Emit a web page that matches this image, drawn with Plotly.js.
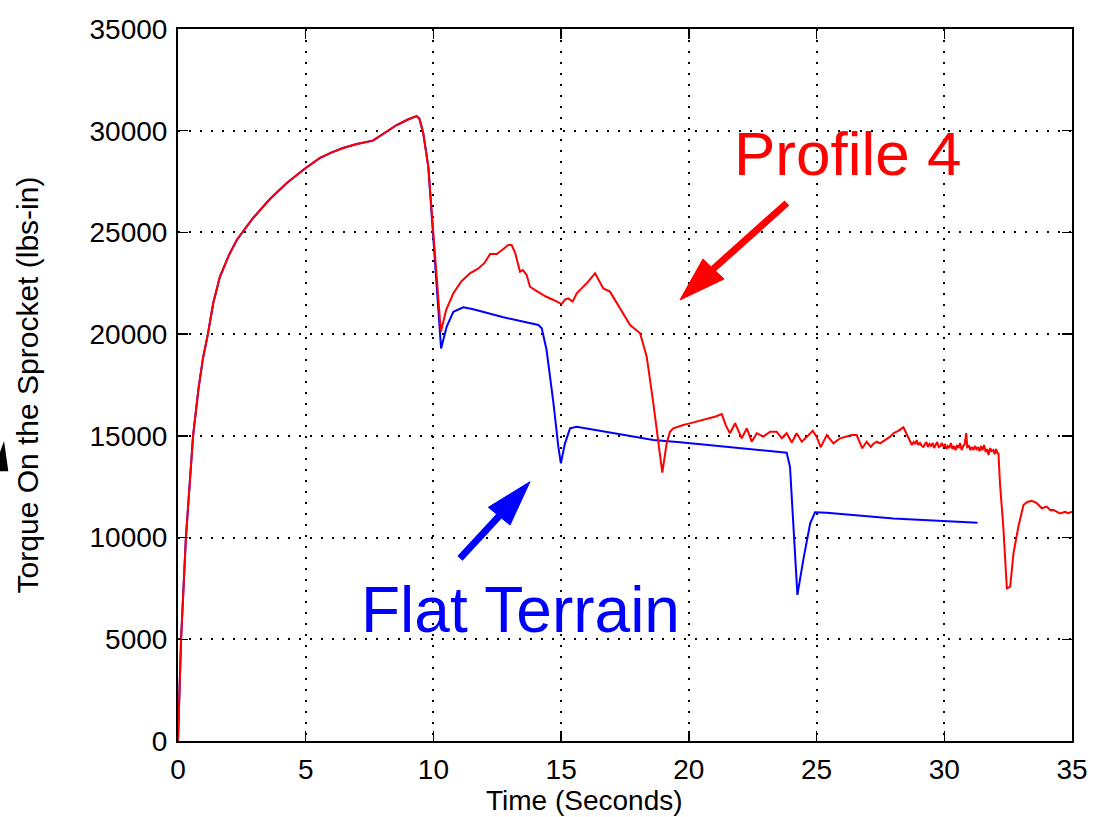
<!DOCTYPE html>
<html>
<head>
<meta charset="utf-8">
<script src="https://cdn.plot.ly/plotly-3.0.1.min.js"></script>
<style>html,body{margin:0;padding:0;background:#fff;}#chart{width:1103px;height:817px;}</style>
</head>
<body>
<div id="chart"></div>
<script>
// Time axis (seconds) and torque values (lbs-in)
const xTicks = [0, 5, 10, 15, 20, 25, 30, 35];
const yTicks = [0, 5000, 10000, 15000, 20000, 25000, 30000, 35000];

const profileTime = [
  0, 0.12, 0.31, 0.59, 0.8, 0.98, 1.17, 1.38, 1.64, 2.0, 2.3, 2.6, 2.94, 3.6, 4.26, 5.0, 5.56, 6.0, 6.46, 7.0, 7.63, 8.1, 8.56, 9.0, 9.34, 9.45, 9.6, 9.8, 9.99, 10.13,
  10.29, 10.5, 10.78, 11.1, 11.43, 11.76, 12.0, 12.22, 12.48, 12.7, 12.93, 13.06, 13.2, 13.39, 13.5, 13.65, 13.78, 14.0, 14.17, 14.4, 14.7, 15.02, 15.15, 15.28, 15.45, 15.61, 15.8, 16.0, 16.33, 16.5, 16.65, 16.91, 17.05, 17.18, 17.44, 17.7, 18.09, 18.2, 18.35, 18.61, 18.81, 18.96, 19.13, 19.26, 19.39, 19.55, 19.78, 20.0, 20.3, 20.55, 20.83, 21.05, 21.29,
  21.45, 21.61, 21.81, 22.07, 22.27, 22.46, 22.66, 22.92, 23.18, 23.44, 23.64, 23.83, 24.03, 24.22, 24.42, 24.62, 24.85, 25.0, 25.16, 25.4, 25.66, 25.92, 26.15, 26.38, 26.57, 26.79, 26.96, 27.12, 27.22, 27.36, 27.49, 27.68, 27.88, 28.01, 28.2, 28.4, 28.55,
  28.73, 28.8, 28.87, 28.92, 28.98, 29.05, 29.12, 29.18, 29.25, 29.3, 29.36, 29.42, 29.48, 29.55, 29.6, 29.66, 29.72, 29.78, 29.85, 29.9, 29.97, 30.03, 30.08, 30.14, 30.2, 30.26, 30.32, 30.38, 30.44, 30.5, 30.56, 30.62, 30.68, 30.74, 30.8, 30.86, 30.9, 30.96, 31.02, 31.08, 31.14, 31.2, 31.26, 31.32, 31.38, 31.44, 31.5, 31.56, 31.62, 31.68, 31.73, 31.8, 31.85, 31.92, 31.97, 32.03, 32.08, 32.12,
  32.18, 32.31, 32.45, 32.58, 32.71, 32.9, 33.1, 33.25, 33.43, 33.62, 33.82, 34.01, 34.15, 34.27, 34.4, 34.53, 34.73, 34.85, 35.0
];
const profileTorque = [
  0, 5000, 10000, 15000, 17300, 18830, 20000, 21530, 22820, 23900, 24630, 25150, 25710, 26640, 27430, 28170, 28660, 28920, 29150, 29350, 29510, 29900, 30280, 30550, 30720, 30600, 29890, 28220, 25040, 22330,
  20120, 21200, 22010, 22600, 22990, 23230, 23500, 23940, 23940, 24150, 24380, 24380, 24000, 23070, 23150, 22910, 22330, 22150, 22010, 21850, 21680, 21480, 21700, 21760, 21600, 22010, 22250, 22500, 22990, 22600, 22250, 22090, 21800, 21520, 21020, 20450, 20040, 19600, 18890, 16600, 14630, 13190, 14630, 15200, 15370, 15450, 15530, 15600, 15700, 15780, 15860, 15950, 16070,
  15500, 15130, 15620, 14880, 15370, 14710, 15130, 14960, 15200, 15200, 14880, 15130, 14670, 15130, 14710, 14960, 15250, 14960, 14440, 15040, 14630, 14880, 14950, 15040, 15040, 14390, 14710, 14460, 14600, 14710, 14630, 14800, 14960, 15130, 15250, 15420, 15050,
  14550, 14700, 14600, 14800, 14550, 14650, 14500, 14460, 14600, 14700, 14450, 14600, 14500, 14650, 14400, 14550, 14700, 14450, 14500, 14650, 14460, 14600, 14350, 14500, 14400, 14650, 14350, 14500, 14300, 14550, 14400, 14650, 14300, 14500, 14600, 15140, 14400, 14550, 14300, 14450, 14300, 14500, 14350, 14450, 14250, 14500, 14300, 14550, 14200, 14350, 14060, 14400, 14250, 14300, 14100, 14350, 14150, 14140,
  12670, 10530, 7500, 7590, 9230, 10530, 11600, 11750, 11810, 11690, 11440, 11520, 11350, 11360, 11280, 11190, 11270, 11200, 11270
];

const flatTime = [
  0, 0.12, 0.31, 0.59, 0.8, 0.98, 1.17, 1.38, 1.64, 2.0, 2.3, 2.6, 2.94, 3.6, 4.26, 5.0, 5.56, 6.0, 6.46, 7.0, 7.63, 8.1, 8.56, 9.0, 9.34, 9.45, 9.6, 9.8, 9.99, 10.13,
  10.3, 10.52, 10.78, 11.17, 11.56, 12.74, 14.11, 14.24, 14.43, 14.7, 14.89, 14.99, 15.15, 15.35, 15.61, 17.3, 18.61, 19.66, 22.79, 23.83, 23.96, 24.09, 24.25, 24.48, 24.75, 24.94, 25.4, 28.01, 29.97, 31.3
];
const flatTorque = [
  0, 5000, 10000, 15000, 17300, 18830, 20000, 21530, 22820, 23900, 24630, 25150, 25710, 26640, 27430, 28170, 28660, 28920, 29150, 29350, 29510, 29900, 30280, 30550, 30720, 30600, 29890, 28220, 25040, 22330,
  19300, 20370, 21100, 21320, 21220, 20830, 20450, 20290, 19220, 16600, 14470, 13650, 14630, 15370, 15450, 15090, 14800, 14680, 14300, 14170, 13480, 10700, 7180, 8900, 10700, 11240, 11220, 10940, 10810, 10730
];

const fam = 'Liberation Sans, Arial, Helvetica, sans-serif';
const tickFont = {family: fam, color: '#000', size: 28};
const titleFont = {family: fam, color: '#000', size: 28};

const traces = [
  {x: flatTime, y: flatTorque, type: 'scatter', mode: 'lines', name: 'Flat Terrain',
   line: {color: '#0000ff', width: 2}, hoverinfo: 'skip'},
  {x: profileTime, y: profileTorque, type: 'scatter', mode: 'lines', name: 'Profile 4',
   line: {color: '#ff0000', width: 2}, hoverinfo: 'skip'}
];

const axisCommon = {
  showline: true, linecolor: '#000', linewidth: 2, mirror: 'allticks',
  ticks: 'inside', ticklen: 10, tickwidth: 1.5, tickcolor: '#000',
  showgrid: true, gridcolor: '#000', gridwidth: 2, griddash: '2px,9px',
  zeroline: false, tickfont: tickFont, fixedrange: true
};

const layout = {
  width: 1103, height: 817,
  margin: {l: 178, r: 31, t: 29, b: 76},
  paper_bgcolor: '#fff', plot_bgcolor: '#fff',
  showlegend: false,
  font: tickFont,
  xaxis: Object.assign({}, axisCommon, {
    range: [0, 35], tickmode: 'array', tickvals: xTicks, ticktext: xTicks.map(String),
    ticklabelstandoff: 2
  }),
  yaxis: Object.assign({}, axisCommon, {
    range: [0, 35000], tickmode: 'array', tickvals: yTicks, ticktext: yTicks.map(String),
    ticklabelstandoff: 3,
    title: {text: 'Torque On the Sprocket (lbs-in)', font: {family: fam, color: '#000', size: 30}, standoff: 42}
  }),
  annotations: [
    {text: 'Time (Seconds)', xref: 'paper', yref: 'paper', x: 0.4547, y: -0.0829,
     xanchor: 'center', yanchor: 'middle', showarrow: false, font: titleFont},
    {text: 'Profile 4', xref: 'x', yref: 'y', x: 26.23, y: 28900,
     xanchor: 'center', yanchor: 'middle', showarrow: false,
     font: {family: fam, size: 62, color: '#ff0000'}},
    {text: 'Flat Terrain', xref: 'x', yref: 'y', x: 13.4, y: 6440,
     xanchor: 'center', yanchor: 'middle', showarrow: false,
     font: {family: fam, size: 64, color: '#0000ff'}}
  ],
  shapes: [
    // red arrow
    {type: 'line', xref: 'x', yref: 'y', x0: 23.84, y0: 26447, x1: 20.95, y1: 23202,
     line: {color: '#ff0000', width: 7}},
    {type: 'path', xref: 'x', yref: 'y', path: 'M19.65,21678 L20.55,23694 L21.38,22711 Z',
     fillcolor: '#ff0000', line: {color: '#ff0000', width: 1}},
    // blue arrow
    {type: 'line', xref: 'x', yref: 'y', x0: 11.04, y0: 8981, x1: 12.57, y1: 11060,
     line: {color: '#0000ff', width: 7}},
    {type: 'path', xref: 'x', yref: 'y', path: 'M13.78,12746 L12.15,11488 L13.00,10618 Z',
     fillcolor: '#0000ff', line: {color: '#0000ff', width: 1}},
    // fragment of black arrow head at left edge
    {type: 'path', xref: 'paper', yref: 'paper',
     path: 'M-0.1991,0.4059 L-0.1946,0.4213 L-0.1898,0.3788 L-0.1991,0.3788 Z',
     fillcolor: '#000', line: {color: '#000', width: 0}}
  ]
};

Plotly.newPlot('chart', traces, layout, {displayModeBar: false, staticPlot: true});
</script>
</body>
</html>
